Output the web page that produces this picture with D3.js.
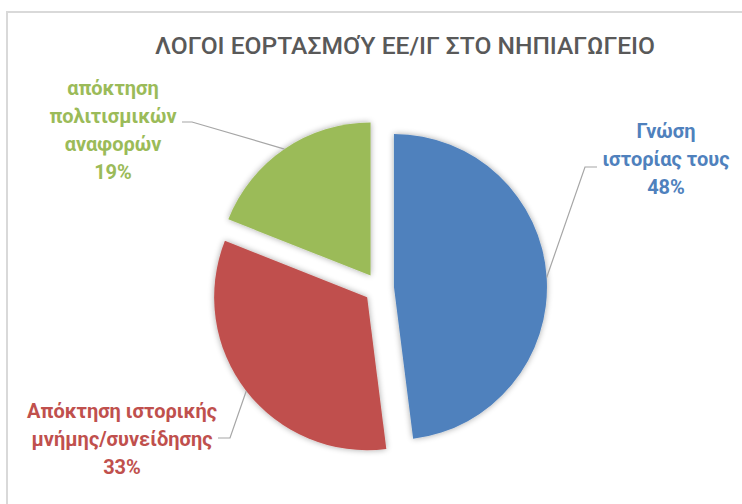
<!DOCTYPE html>
<html>
<head>
<meta charset="utf-8">
<script src="https://cdn.jsdelivr.net/npm/d3@7"></script>
<style>
  html, body { margin: 0; padding: 0; background: #fff; }
  svg { display: block; }
</style>
</head>
<body>
<script>
var width = 742, height = 504;

// data
var title = 'ΛΟΓΟΙ ΕΟΡΤΑΣΜΟΎ ΕΕ/ΙΓ ΣΤΟ ΝΗΠΙΑΓΩΓΕΙΟ';
var categories = ['Γνώση ιστορίας τους', 'Απόκτηση ιστορικής μνήμης/συνείδησης', 'απόκτηση πολιτισμικών αναφορών'];
var values = [48, 33, 19];
var labelLines = [['Γνώση', 'ιστορίας τους'], ['Απόκτηση ιστορικής', 'μνήμης/συνείδησης'], ['απόκτηση', 'πολιτισμικών', 'αναφορών']];
var colors = ['#4f81bd', '#c0504d', '#9bbb59'];

// layout (label block centre x, first baseline y, elbow of leader, end of leader)
var labelLayout = [
  { x: 666, y: 138, elbow: [585, 167], end: [597, 167] },
  { x: 122, y: 418, elbow: [230, 438], end: [218, 438] },
  { x: 113, y: 95,  elbow: [192, 122], end: [182, 122] }
];
var center = { x: 379, y: 288 }, radius = 153, explode = 15, lineHeight = 28;

var svg = d3.select('body')
  .append('svg')
  .attr('width', width)
  .attr('height', height);

var defs = svg.append('defs');
var shadow = defs.append('filter').attr('id', 'shadow')
  .attr('x', '-20%').attr('y', '-20%').attr('width', '140%').attr('height', '140%');
shadow.append('feGaussianBlur').attr('in', 'SourceAlpha').attr('stdDeviation', 3).attr('result', 'blur');
shadow.append('feComponentTransfer').append('feFuncA').attr('type', 'linear').attr('slope', 0.35);
var merge = shadow.append('feMerge');
merge.append('feMergeNode');
merge.append('feMergeNode').attr('in', 'SourceGraphic');

// chart border (continues off the right and bottom edge)
svg.append('rect')
  .attr('x', 7).attr('y', 12)
  .attr('width', width + 10).attr('height', height + 10)
  .attr('fill', '#fff')
  .attr('stroke', '#d9d9d9')
  .attr('stroke-width', 2);

svg.append('text')
  .attr('x', 405).attr('y', 54)
  .attr('text-anchor', 'middle')
  .attr('textLength', 500)
  .attr('lengthAdjust', 'spacingAndGlyphs')
  .style('font-family', 'Roboto, "Open Sans", sans-serif')
  .style('font-size', '23px')
  .style('font-weight', 500)
  .attr('fill', '#595959')
  .text(title);

var pie = d3.pie().sort(null).value(function (d) { return d; });
var arcs = pie(values);
var arc = d3.arc().innerRadius(0).outerRadius(radius);

var slices = svg.append('g')
  .attr('transform', 'translate(' + center.x + ',' + center.y + ')');

function midAngle(d) { return (d.startAngle + d.endAngle) / 2; }
function offset(d) {
  var a = midAngle(d);
  return [explode * Math.sin(a), -explode * Math.cos(a)];
}

slices.selectAll('path.slice')
  .data(arcs)
  .enter().append('path')
  .attr('class', 'slice')
  .attr('d', arc)
  .attr('fill', function (d, i) { return colors[i]; })
  .attr('filter', 'url(#shadow)')
  .attr('transform', function (d) { var o = offset(d); return 'translate(' + o[0] + ',' + o[1] + ')'; });

// leader lines: from the outer arc at mid angle to the label
svg.append('g').selectAll('path.leader')
  .data(arcs)
  .enter().append('path')
  .attr('class', 'leader')
  .attr('fill', 'none')
  .attr('stroke', '#a6a6a6')
  .attr('stroke-width', 1.2)
  .attr('d', function (d, i) {
    var o = offset(d), a = midAngle(d);
    var px = center.x + o[0] + radius * Math.sin(a);
    var py = center.y + o[1] - radius * Math.cos(a);
    var L = labelLayout[i];
    return 'M' + px + ',' + py + 'L' + L.elbow[0] + ',' + L.elbow[1] + 'L' + L.end[0] + ',' + L.end[1];
  });

var labels = svg.append('g').selectAll('text.label')
  .data(arcs)
  .enter().append('text')
  .attr('class', 'label')
  .attr('text-anchor', 'middle')
  .style('font-family', 'Roboto, "Open Sans", sans-serif')
  .style('font-size', '20px')
  .style('font-weight', 'bold')
  .attr('fill', function (d, i) { return colors[i]; });

labels.each(function (d, i) {
  var t = d3.select(this), L = labelLayout[i];
  var lines = labelLines[i].concat([d3.format('.0%')(d.value / d3.sum(values))]);
  lines.forEach(function (s, k) {
    t.append('tspan').attr('x', L.x).attr('y', L.y + k * lineHeight).text(s);
  });
});
</script>
</body>
</html>
